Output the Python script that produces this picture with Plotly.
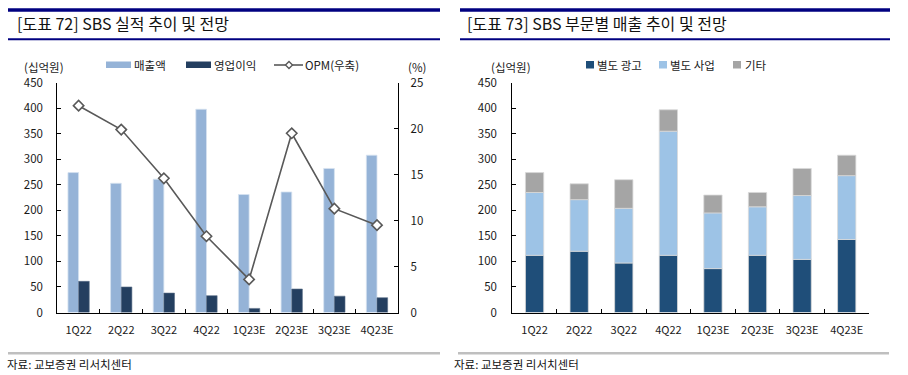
import plotly.graph_objects as go

categories = ["1Q22", "2Q22", "3Q22", "4Q22", "1Q23E", "2Q23E", "3Q23E", "4Q23E"]
revenue = [274, 253, 261, 398, 231, 236, 282, 308]
op_profit = [61, 50, 38, 33, 8, 46, 32, 29]
opm = [22.5, 19.9, 14.6, 8.3, 3.6, 19.5, 11.3, 9.5]

ad_sales = [112, 120, 97, 112, 86, 112, 104, 143]
biz_sales = [123, 101, 107, 243, 109, 95, 125, 125]
other_sales = [39, 31, 56, 42, 35, 28, 53, 40]

left_ticks = [0, 50, 100, 150, 200, 250, 300, 350, 400, 450]
right_ticks = [0, 5, 10, 15, 20, 25]

W, H = 908, 375
FONT = "Noto Sans CJK KR"
TICKC = "#1a1a1a"

def px(x):
    return x / W

def py(y):
    return 1 - y / H

fig = go.Figure()

# Left chart
fig.add_trace(go.Bar(x=categories, y=revenue, name="매출액", xaxis="x", yaxis="y",
                     marker=dict(color="#95B3D7", line=dict(color="#D6E2F0", width=0.8)),
                     width=0.25, offset=-0.25, showlegend=False))
fig.add_trace(go.Bar(x=categories, y=op_profit, name="영업이익", xaxis="x", yaxis="y",
                     marker=dict(color="#243F60", line=dict(color="#5A6F88", width=0.6)),
                     width=0.25, offset=0, showlegend=False))
fig.add_trace(go.Scatter(x=categories, y=opm, name="OPM(우축)", xaxis="x", yaxis="y2",
                         mode="lines+markers",
                         line=dict(color="#595959", width=1.6),
                         marker=dict(symbol="diamond", size=8, color="white",
                                     line=dict(color="#595959", width=1.6)),
                         showlegend=False))

# Right chart (stacked via base)
base1 = [0] * len(categories)
base2 = [a for a in ad_sales]
base3 = [a + b for a, b in zip(ad_sales, biz_sales)]
for vals, base, col, nm in [(ad_sales, base1, "#1F4E79", "별도 광고"),
                            (biz_sales, base2, "#9DC3E6", "별도 사업"),
                            (other_sales, base3, "#A5A5A5", "기타")]:
    fig.add_trace(go.Bar(x=categories, y=vals, base=base, name=nm, xaxis="x2", yaxis="y3",
                         marker=dict(color=col, line=dict(color="#D9D9D9", width=0.8)),
                         width=0.41, offset=-0.205, showlegend=False))

ydom = [py(312.5), py(82.7)]

def axc(size=11.5):
    return dict(showline=True, linecolor="black", linewidth=1, showgrid=False,
                zeroline=False, ticks="inside", ticklen=4, tickcolor="black",
                automargin=False,
                tickfont=dict(family=FONT, size=size, color=TICKC))

fig.update_layout(
    width=W, height=H, margin=dict(l=0, r=0, t=0, b=0, pad=0, autoexpand=False),
    paper_bgcolor="white", plot_bgcolor="white",
    barmode="overlay",
    xaxis=dict(domain=[px(57.3), px(398.3)], anchor="y", type="category", tickangle=0,
               range=[-0.5, 7.5], tickson="boundaries", ticklabelstandoff=7, **axc(11)),
    yaxis=dict(domain=ydom, anchor="x", range=[0, 450], tickvals=left_ticks,
               ticklabelstandoff=11, **axc()),
    yaxis2=dict(overlaying="y", side="right", anchor="x", range=[0, 25],
                tickvals=right_ticks, ticklabelstandoff=9, **axc()),
    xaxis2=dict(domain=[px(512.3), px(869)], anchor="y3", type="category", tickangle=0,
                range=[-0.5, 7.5], tickson="boundaries", ticklabelstandoff=7, **axc(11)),
    yaxis3=dict(domain=ydom, anchor="x2", range=[0, 450], tickvals=left_ticks,
                ticklabelstandoff=12, **axc()),
)

shapes = []
annos = []

def rect(x0, y0, x1, y1, color):
    shapes.append(dict(type="rect", xref="paper", yref="paper",
                       x0=px(x0), x1=px(x1), y0=py(y1), y1=py(y0),
                       fillcolor=color, line=dict(width=0), layer="above"))

def text(x, y, s, size=11, xanchor="left", color=TICKC):
    annos.append(dict(xref="paper", yref="paper", x=px(x), y=py(y), text=s,
                      showarrow=False, xanchor=xanchor, yanchor="middle", borderpad=0,
                      font=dict(family=FONT, size=size, color=color)))

# Title bars
NAVY = "#000080"
rect(8, 8.2, 440, 11.8, NAVY)
rect(8, 38.3, 440, 40.3, NAVY)
rect(460, 8.2, 890, 11.8, NAVY)
rect(460, 38.3, 890, 40.3, NAVY)
text(16, 23.5, "[도표 72] SBS 실적 추이 및 전망", size=16, color="#111111")
text(466, 23.5, "[도표 73] SBS 부문별 매출 추이 및 전망", size=16, color="#111111")

# Footer
rect(8, 352, 440, 354.5, "#BFBFBF")
rect(458, 352, 889, 354.5, "#BFBFBF")
text(6, 363.5, "자료: 교보증권 리서치센터", size=11.5, color="#111111")
text(453, 363.5, "자료: 교보증권 리서치센터", size=11.5, color="#111111")

# Units
text(44, 66.5, "(십억원)", size=11.5, xanchor="center")
text(417, 66.5, "(%)", size=11.5, xanchor="center")
text(511, 66.5, "(십억원)", size=11.5, xanchor="center")

# Left legend
rect(106, 61.5, 131, 68, "#95B3D7")
text(133, 65.5, "매출액", size=11.5)
rect(186, 61.5, 211, 68, "#243F60")
text(213, 65.5, "영업이익", size=11.5)
shapes.append(dict(type="line", xref="paper", yref="paper", x0=px(274), x1=px(303),
                   y0=py(65), y1=py(65), line=dict(color="#595959", width=1.6)))
d = 3.5
shapes.append(dict(type="path", xref="paper", yref="paper",
                   path=f"M {px(289-d)} {py(65)} L {px(289)} {py(65-d)} L {px(289+d)} {py(65)} L {px(289)} {py(65+d)} Z",
                   fillcolor="white", line=dict(color="#595959", width=1.4), layer="above"))
text(304, 65.5, "OPM(우축)", size=11.5)

# Right legend
rect(586, 61, 594, 68.5, "#1F4E79")
text(596, 65.5, "별도 광고", size=11.5)
rect(659, 61, 667, 68.5, "#9DC3E6")
text(669, 65.5, "별도 사업", size=11.5)
rect(733, 61, 741, 68.5, "#A5A5A5")
text(744, 65.5, "기타", size=11.5)

fig.update_layout(shapes=shapes, annotations=annos)
fig.write_html("out.html", config={"displayModeBar": False},
               post_script="document.body.style.margin='0';document.body.style.padding='0';")
